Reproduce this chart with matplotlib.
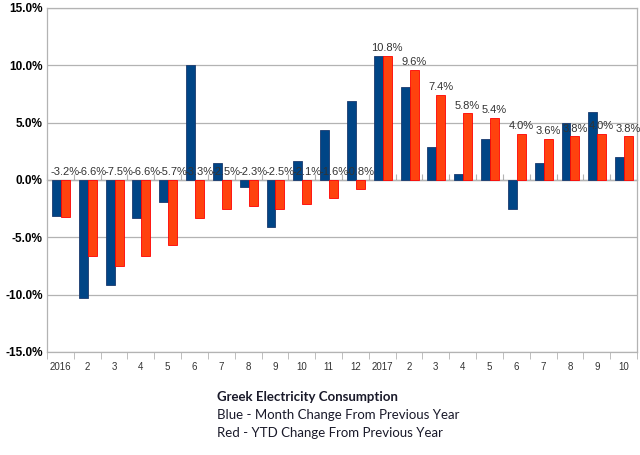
import matplotlib
matplotlib.use("Agg")
import matplotlib.pyplot as plt
import numpy as np
from matplotlib.ticker import FuncFormatter, FixedLocator

# month labels
categories = ["2016", "2", "3", "4", "5", "6", "7", "8", "9", "10", "11", "12",
              "2017", "2", "3", "4", "5", "6", "7", "8", "9", "10"]
# blue - month change from previous year (%)
month_chg = [-3.1, -10.3, -9.2, -3.3, -1.9, 10.0, 1.45, -0.6, -4.1, 1.65, 4.4, 6.9,
             10.8, 8.1, 2.9, 0.5, 3.6, -2.5, 1.5, 5.0, 5.9, 2.0]
# red - YTD change from previous year (%)
ytd_chg = [-3.2, -6.6, -7.5, -6.6, -5.7, -3.3, -2.5, -2.3, -2.5, -2.1, -1.6, -0.8,
           10.8, 9.6, 7.4, 5.8, 5.4, 4.0, 3.6, 3.8, 4.0, 3.8]

fig = plt.figure(figsize=(6.4, 4.55), dpi=100)
ax = fig.add_axes([47/640, 1-352/455, 590/640, 344/455])

x = np.arange(len(categories))
w = 0.335
off = 0.02
ax.bar(x - w + off, month_chg, width=w, align="edge", color="#004586", edgecolor="#1a3a6e", linewidth=0.6, zorder=3)
ax.bar(x + off, ytd_chg, width=w, align="edge", color="#ff420e", edgecolor="#ff0000", linewidth=0.6, zorder=3)

for xi, v in zip(x, ytd_chg):
    ax.annotate("%.1f%%" % v, (xi + off + w/2, max(v, 0)), xytext=(0, 2), textcoords="offset points",
                ha="center", va="bottom", fontsize=8, color="#333333",
                family="Liberation Sans", zorder=4)

ax.set_xlim(-0.5, len(categories) - 0.5)
ax.set_ylim(-15, 15)
ax.set_yticks([-15, -10, -5, 0, 5, 10, 15])
ax.yaxis.set_major_formatter(FuncFormatter(lambda v, p: "%.1f%%" % v))
ax.yaxis.grid(True, color="#b3b3b3", linewidth=0.9, zorder=0)
ax.tick_params(axis="y", length=0, pad=3, labelsize=8.5, labelcolor="#000000")
for lab in ax.get_yticklabels():
    lab.set_fontweight("bold")
    lab.set_family("Liberation Sans")

ax.set_xticks(x)
ax.set_xticklabels(categories)
ax.xaxis.set_minor_locator(FixedLocator(np.arange(-0.5, len(categories), 1.0)))
ax.tick_params(axis="x", which="major", length=0, pad=7, labelsize=7, labelcolor="#333333")
ax.tick_params(axis="x", which="minor", length=5, color="#b3b3b3", direction="out")
for lab in ax.get_xticklabels():
    lab.set_family("Liberation Sans")

for side in ["left", "bottom", "top", "right"]:
    ax.spines[side].set_color("#b3b3b3")
    ax.spines[side].set_linewidth(0.9)

# small ticks along the zero line
sec = ax.secondary_xaxis(0.5)
sec.set_xticks(np.arange(-0.5, len(categories), 1.0))
sec.set_xticklabels([])
sec.tick_params(axis="x", length=4, color="#b3b3b3", direction="out")
sec.spines["bottom"].set_visible(False)

fig.text(217/640, 1-397/455, "Greek Electricity Consumption", fontsize=9.5, fontweight="bold",
         family="Lato", color="#1a1a2a", va="center", ha="left")
fig.text(217/640, 1-415/455, "Blue - Month Change From Previous Year", fontsize=9.5,
         family="Lato", color="#1a1a2a", va="center", ha="left")
fig.text(217/640, 1-433/455, "Red - YTD Change From Previous Year", fontsize=9.5,
         family="Lato", color="#1a1a2a", va="center", ha="left")

fig.savefig("out.png", dpi=100)
